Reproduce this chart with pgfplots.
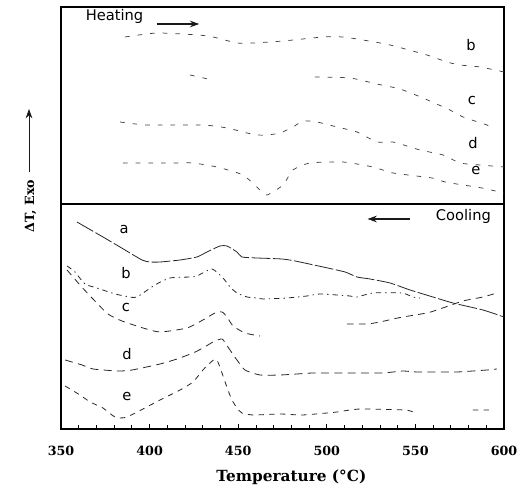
\documentclass[border=0pt]{standalone}
\usepackage{fontspec}
\setmainfont{DejaVu Serif}
\setsansfont{DejaVu Sans}
\usepackage{pgfplots}
\pgfplotsset{compat=1.18}
\usetikzlibrary{arrows.meta}

\pgfplotsset{
  panel/.style={
    scale only axis, width=332.25pt,
    xmin=350, xmax=600,
    ytick=\empty,
    axis line style={line width=0.9pt},
    unbounded coords=jump,
    clip=false,
  },
  curve/.style={black!85, line width=0.6pt, smooth, tension=0.35},
  heat/.style={curve, black!75, line width=0.55pt, dash pattern=on 3.5pt off 6pt},
}
\tikzset{lab/.style={font=\sffamily\fontsize{11}{11}\selectfont},
  arr/.style={-{Stealth[length=7pt,width=5pt]}, line width=0.8pt, black!90}}

\begin{document}
\begin{tikzpicture}
\useasboundingbox (-45.75pt,-49.5pt) rectangle (348.75pt,321.75pt);

% lower panel: cooling
\begin{axis}[panel,
  at={(0,0)}, anchor=south west,
  height=168.75pt, ymin=66, ymax=291,
  xtick={350,400,...,600}, minor x tick num=4,
  xtick pos=left, tick align=inside,
  major tick length=4pt, minor tick length=3pt,
  every tick/.style={black, line width=0.6pt},
  /pgf/number format/assume math mode=true,
  xticklabel style={font=\bfseries\fontsize{9.5}{10}\selectfont, anchor=center, yshift=-16.5pt},
  xlabel={Temperature (°C)},
  xlabel style={font=\bfseries\fontsize{11.5}{12}\selectfont, at={(axis description cs:0.52,0)}, anchor=center, yshift=-36pt},
]
% a
\addplot[curve, dash pattern=on 14pt off 2pt] coordinates {
 (359.0,273) (373.7,258) (383.3,248) (395.7,235) (400.2,233) (405.9,233)
 (417.2,235) (426.7,238) (432.4,243) (439.7,249) (443.7,249) (449.3,243)
 (452.1,238) (460.6,237) (474.7,236) (482.1,234) (497.9,228) (510.3,223)
 (517.0,218) (524.4,216) (535.7,212) (547.0,205) (559.9,198) (571.2,192)
 (588.1,185) (600,178)};
% b
\addplot[curve, dash pattern=on 4pt off 3pt on 1pt off 3pt] coordinates {
 (353.4,229) (357.9,223) (363.5,211) (370.3,207) (380.5,201) (388.9,198)
 (392.9,198) (403.0,210) (411.5,217) (422.8,218) (426.7,219) (435.2,226)
 (441.4,217) (445.4,208) (449.3,202) (455.0,198) (460.6,197) (464.0,196)
 (477.5,197) (488.8,199) (496.2,201) (513.1,199) (517.0,198) (526.1,202)
 (542.4,202) (548.6,198) (552.6,197)};
% c
\addplot[curve, dash pattern=on 5pt off 4pt] coordinates {
 (353.4,225) (360.7,210) (367.5,197) (376.5,181) (384.4,174) (396.3,167)
 (405.9,163) (421.1,167) (430.1,175) (436.9,182) (440.9,183) (443.7,178)
 (447.1,169) (453.8,162) (462.3,159) (490,nan)
 (511.4,171) (522.7,171) (530.0,173) (537.4,176) (543.0,178) (556.5,182)
 (562.2,185) (576.9,194) (588.1,198) (596.0,202)};
% d
\addplot[curve, dash pattern=on 6pt off 4pt] coordinates {
 (352.3,135) (361.9,130) (368.1,126) (382.2,124) (390.1,125) (405.9,131)
 (415.5,136) (424.5,142) (430.1,147) (435.8,153) (440.9,156) (444.2,148)
 (449.3,135) (453.8,125) (462.3,120) (473.6,120) (483.2,121) (492.2,122)
 (513.1,122) (521.6,122) (531.7,122) (537.4,123) (543.0,124) (550.9,123)
 (562.2,123) (573.5,123) (582.5,124) (590.4,125) (596.0,126)};
% e
\addplot[curve, dash pattern=on 4pt off 4pt] coordinates {
 (352.3,109) (360.7,100) (366.4,93) (373.7,87) (380.5,78) (387.2,78)
 (405.9,95) (417.2,105) (424.5,113) (430.1,125) (434.1,132) (438.0,135)
 (444.2,105) (446.5,95) (449.3,87) (452.1,82) (458.4,80) (473.6,81)
 (486.0,80) (500.1,82) (505.8,83) (513.1,85) (519.9,86) (544.1,85)
 (548.6,83) (565,nan) (582.5,85) (592.1,85)};

\node[lab] at (axis cs:385.6,265) {a};
\node[lab] at (axis cs:386.7,222) {b};
\node[lab] at (axis cs:386.7,187) {c};
\node[lab] at (axis cs:387.2,141) {d};
\node[lab] at (axis cs:387.2,98) {e};
\node[lab, anchor=base] at (axis cs:577.1,274) {Cooling};
\draw[arr] (axis cs:547,276) -- (axis cs:523,276);
\end{axis}

% upper panel: heating
\begin{axis}[panel,
  at={(0,168.75pt)}, anchor=south west,
  height=147.75pt, ymin=291, ymax=488,
  xtick=\empty,
]
% b
\addplot[heat] coordinates {
 (386.1,458) (404.2,462) (427.3,460) (435.8,458) (449.3,452) (458.4,452)
 (475.3,454) (497.9,458) (509.1,458) (520.4,455) (535.7,450) (556.5,440)
 (567.8,433) (575.2,430) (586.5,428) (600,423)};
% c
\addplot[heat] coordinates {
 (422.8,420) (433.0,416) (463,nan)
 (493.3,418) (513.1,417) (528.3,411) (541.3,406) (554.3,397) (569.5,385)
 (576.9,378) (590.4,370) (593.8,367)};
% d
\addplot[heat] coordinates {
 (383.3,373) (398.5,370) (430.1,370) (443.7,367) (455.0,362) (460.6,360)
 (466.3,360) (473.6,362) (480.9,368) (486.6,374) (494.5,373) (505.8,368)
 (517.0,363) (528.3,353) (537.4,353) (552.6,345) (565.6,340) (575.2,332)
 (586.5,330) (600,328)};
% e
\addplot[heat] coordinates {
 (385.0,332) (401.9,332) (415.5,332) (424.5,332) (438.0,328) (452.7,320)
 (462.3,305) (466.3,300) (475.3,310) (480.9,325) (490.5,332) (509.1,333)
 (526.1,328) (537.4,322) (559.4,317) (566.7,313) (576.9,310) (587.6,307)
 (600,302)};

\node[lab] at (axis cs:581.4,450) {b};
\node[lab] at (axis cs:581.9,394) {c};
\node[lab] at (axis cs:582.5,352) {d};
\node[lab] at (axis cs:584.2,324) {e};
\node[lab, anchor=base] at (axis cs:380.2,474) {Heating};
\draw[arr] (axis cs:404,471) -- (axis cs:428,471);
\end{axis}

\node[rotate=90, font=\bfseries\fontsize{9.5}{10}\selectfont] at (-22.9pt,167.25pt) {ΔT, Exo};
\draw[arr, line width=0.6pt] (-24pt,193pt) -- (-24pt,240pt);
\end{tikzpicture}
\end{document}
